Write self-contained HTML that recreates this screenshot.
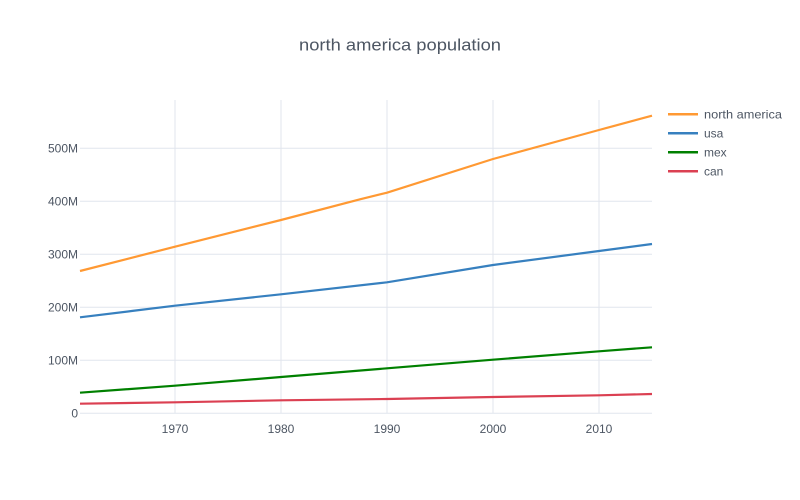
<!DOCTYPE html>
<html>
<head>
<meta charset="utf-8">
<style>
  html, body { margin: 0; padding: 0; background: #ffffff; }
  svg { display: block; }
  text { font-family: "Liberation Sans", "DejaVu Sans", sans-serif; fill: #4D5663; }
</style>
</head>
<body>
<svg width="800" height="500" viewBox="0 0 800 500" xmlns="http://www.w3.org/2000/svg">
  <rect x="0" y="0" width="800" height="500" fill="#ffffff"/>

  <!-- vertical grid -->
  <g stroke="#E1E5ED" stroke-width="1">
    <line x1="175" y1="100" x2="175" y2="413.3"/>
    <line x1="281" y1="100" x2="281" y2="413.3"/>
    <line x1="387" y1="100" x2="387" y2="413.3"/>
    <line x1="493" y1="100" x2="493" y2="413.3"/>
    <line x1="599" y1="100" x2="599" y2="413.3"/>
  </g>
  <!-- horizontal grid -->
  <g stroke="#E1E5ED" stroke-width="1">
    <line x1="80" y1="148.3" x2="652" y2="148.3"/>
    <line x1="80" y1="201.3" x2="652" y2="201.3"/>
    <line x1="80" y1="254.3" x2="652" y2="254.3"/>
    <line x1="80" y1="307.3" x2="652" y2="307.3"/>
    <line x1="80" y1="360.3" x2="652" y2="360.3"/>
    <line x1="80" y1="413.3" x2="652" y2="413.3"/>
  </g>

  <!-- series -->
  <g fill="none" stroke-width="2.2" stroke-linejoin="round" stroke-linecap="butt">
    <polyline stroke="#db4052" points="80,403.7 175,402.3 281,400.3 387,399 493,397 599,395.3 652,394"/>
    <polyline stroke="#008000" points="80,392.7 175,385.7 281,377 387,368.3 493,359.7 599,351.3 652,347.3"/>
    <polyline stroke="#3780bf" points="80,317.3 132.6,310.9 175,305.7 281,294.3 387,282.3 493,265 599,251 652,244"/>
    <polyline stroke="#ff9933" points="80,271 175,246.7 281,220 360,199.3 387,192.7 493,159 599,130 652,115.7"/>
  </g>

  <!-- y tick labels -->
  <g font-size="12" text-anchor="end">
    <text x="78" y="152.5">500M</text>
    <text x="78" y="205.5">400M</text>
    <text x="78" y="258.5">300M</text>
    <text x="78" y="311.5">200M</text>
    <text x="78" y="364.5">100M</text>
    <text x="78" y="417.5">0</text>
  </g>

  <!-- x tick labels -->
  <g font-size="12" text-anchor="middle">
    <text x="175" y="433">1970</text>
    <text x="281" y="433">1980</text>
    <text x="387" y="433">1990</text>
    <text x="493" y="433">2000</text>
    <text x="599" y="433">2010</text>
  </g>

  <!-- title -->
  <text x="299" y="50.5" font-size="17" textLength="202" lengthAdjust="spacingAndGlyphs">north america population</text>

  <!-- legend -->
  <g stroke-width="2.5">
    <line x1="668" y1="114.3" x2="698" y2="114.3" stroke="#ff9933"/>
    <line x1="668" y1="133.3" x2="698" y2="133.3" stroke="#3780bf"/>
    <line x1="668" y1="152.3" x2="698" y2="152.3" stroke="#008000"/>
    <line x1="668" y1="171.3" x2="698" y2="171.3" stroke="#db4052"/>
  </g>
  <g font-size="12">
    <text x="704" y="118.5" textLength="78" lengthAdjust="spacingAndGlyphs">north america</text>
    <text x="704" y="137.5">usa</text>
    <text x="704" y="156.5">mex</text>
    <text x="704" y="175.5">can</text>
  </g>
</svg>
</body>
</html>
